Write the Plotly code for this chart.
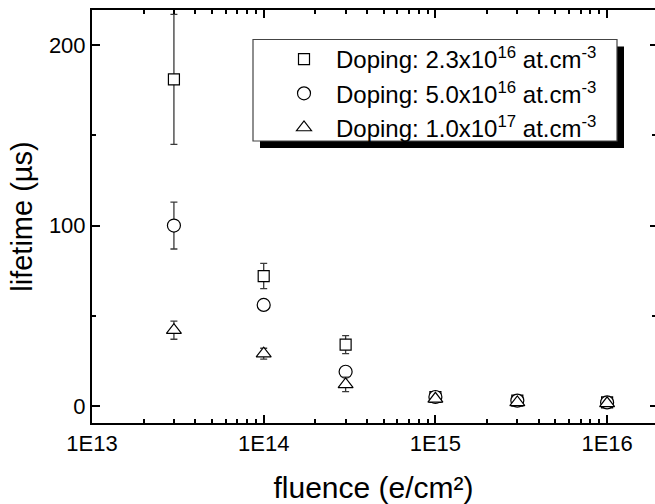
import plotly.graph_objects as go

fluence = [3e13, 1e14, 3e14, 1e15, 3e15, 1e16]
sq_vals = [181, 72, 34, 5, 3, 2]
sq_err = [36, 7, 5, 1, 1, 1]
ci_vals = [100, 56, 19, 5, 3, 2]
ci_err = [13, 2, 2, 1, 1, 1]
tr_vals = [42, 29, 12, 4, 2, 1.5]
tr_err = [5, 3, 4, 1, 1, 1]

names = [
    "Doping: 2.3x10<sup>16</sup> at.cm<sup>-3</sup>",
    "Doping: 5.0x10<sup>16</sup> at.cm<sup>-3</sup>",
    "Doping: 1.0x10<sup>17</sup> at.cm<sup>-3</sup>",
]
x_tickvals = [1e13, 1e14, 1e15, 1e16]
x_ticktext = ["1E13", "1E14", "1E15", "1E16"]
y_tickvals = [0, 100, 200]

FONT = "Liberation Sans, Arial, sans-serif"
XR = [13, 16.279]
YR = [-9.4, 219.4]

minor_x = [m * 10 ** k for k in range(13, 17) for m in range(2, 10)]

fig = go.Figure()
series = [
    (sq_vals, sq_err, "square", 11),
    (ci_vals, ci_err, "circle", 13),
    (tr_vals, tr_err, "triangle-up", 13),
]
for i, (vals, err, sym, sz) in enumerate(series):
    fig.add_trace(go.Scatter(
        x=fluence, y=vals, mode="markers", name=names[i],
        legendgroup=f"g{i}",
        marker=dict(symbol=sym, size=sz, color="white",
                    line=dict(color="black", width=1.2)),
        error_y=dict(type="data", array=err, visible=True,
                     color="#3a3a3a", thickness=1.3, width=3.5),
    ))

# invisible trace for mirrored axes
fig.add_trace(go.Scatter(x=[], y=[], xaxis="x2", yaxis="y2",
                         showlegend=False, hoverinfo="skip"))

tickfont = dict(family=FONT, size=22, color="black")
fig.update_layout(
    width=655, height=504,
    margin=dict(l=92, r=0, t=10, b=81),
    paper_bgcolor="white", plot_bgcolor="white",
    font=dict(family=FONT, color="black"),
    xaxis=dict(
        type="log", range=XR, tickvals=x_tickvals, ticktext=x_ticktext,
        ticks="inside", ticklen=8, tickwidth=1.5, tickcolor="black",
        showline=True, linecolor="black", linewidth=2, showgrid=False,
        zeroline=False, tickfont=tickfont,
        minor=dict(tickvals=minor_x, ticks="inside", ticklen=4,
                   tickwidth=1.5, tickcolor="black", showgrid=False),
        title=dict(text="fluence (e/cm²)",
                   font=dict(family=FONT, size=30), standoff=24),
    ),
    yaxis=dict(
        range=YR, tickvals=y_tickvals,
        ticks="inside", ticklen=8, tickwidth=1.5, tickcolor="black",
        showline=True, linecolor="black", linewidth=2, showgrid=False,
        zeroline=False, tickfont=tickfont,
        minor=dict(tick0=0, dtick=50, ticks="inside", ticklen=4,
                   tickwidth=1.5, tickcolor="black", showgrid=False),
        title=dict(text="lifetime (µs)",
                   font=dict(family=FONT, size=29), standoff=8),
    ),
    xaxis2=dict(
        type="log", range=XR, overlaying="x", side="top", anchor="y2",
        tickvals=x_tickvals, showticklabels=False,
        ticks="inside", ticklen=8, tickwidth=1.5, tickcolor="black",
        showline=True, linecolor="black", linewidth=2, showgrid=False,
        zeroline=False,
        minor=dict(tickvals=minor_x, ticks="inside", ticklen=4,
                   tickwidth=1.5, tickcolor="black", showgrid=False),
    ),
    yaxis2=dict(
        range=YR, overlaying="y", side="right", anchor="x2",
        tickvals=y_tickvals, showticklabels=False,
        ticks="inside", ticklen=5, tickwidth=1.5, tickcolor="black",
        showline=False, showgrid=False, zeroline=False,
        minor=dict(tick0=0, dtick=50, ticks="inside", ticklen=3,
                   tickwidth=1.5, tickcolor="black", showgrid=False),
    ),
    legend=dict(
        x=(272 - 92) / 563, y=(423 - 37) / 413, xanchor="left", yanchor="top",
        bgcolor="rgba(0,0,0,0)", borderwidth=0, itemwidth=54,
        font=dict(family=FONT, size=24, color="black"),
        tracegroupgap=0,
    ),
    showlegend=True,
)

# legend drop shadow and box
fig.add_shape(type="rect", xref="paper", yref="paper",
              x0=(260 - 92) / 563, x1=(624 - 92) / 563,
              y0=(423 - 148) / 413, y1=(423 - 46.5) / 413,
              fillcolor="black", line=dict(width=0), layer="above")
fig.add_shape(type="rect", xref="paper", yref="paper",
              x0=(253 - 92) / 563, x1=(617 - 92) / 563,
              y0=(423 - 141) / 413, y1=(423 - 39.5) / 413,
              fillcolor="white", line=dict(color="#444", width=1.2),
              layer="above")

fig.write_html("out.html")
